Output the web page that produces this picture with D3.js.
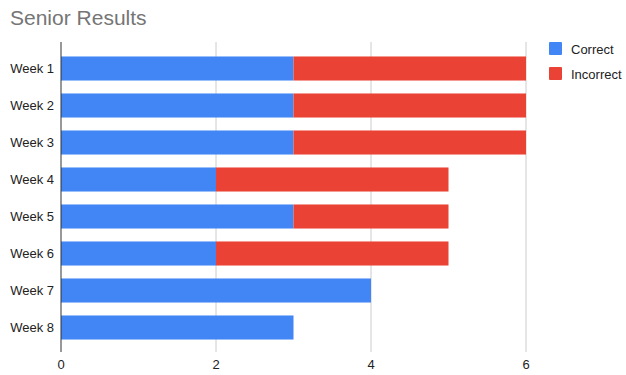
<!DOCTYPE html>
<html>
<head>
<meta charset="utf-8">
<script src="https://cdn.jsdelivr.net/npm/d3@7"></script>
<style>
  body { margin: 0; background: #fff; }
  text { font-family: "Liberation Sans", Arial, sans-serif; }
</style>
</head>
<body>
<div id="chart"></div>
<script>
// data
var weeks = ["Week 1", "Week 2", "Week 3", "Week 4", "Week 5", "Week 6", "Week 7", "Week 8"];
var correct = [3, 3, 3, 2, 3, 2, 4, 3];
var incorrect = [3, 3, 3, 3, 2, 3, 0, 0];
var seriesNames = ["Correct", "Incorrect"];
var colors = ["#4285F4", "#EA4335"];
var xTicks = [0, 2, 4, 6];

var width = 626, height = 375;
var svg = d3.select("#chart").append("svg")
  .attr("width", width)
  .attr("height", height);

var x = d3.scaleLinear().domain([0, 6]).range([61, 526]);
var y = d3.scaleBand().domain(weeks).range([50, 346]).paddingInner(0.35).paddingOuter(0.175);

// title
svg.append("text")
  .attr("x", 10).attr("y", 25)
  .attr("font-size", 21)
  .attr("fill", "#757575")
  .text("Senior Results");

// gridlines
svg.selectAll(".grid").data(xTicks.slice(1)).enter().append("line")
  .attr("x1", d => x(d)).attr("x2", d => x(d))
  .attr("y1", 42).attr("y2", 352)
  .attr("stroke", "#ccc").attr("stroke-width", 1);

// stacked bars
var rows = weeks.map((w, i) => ({ week: w, Correct: correct[i], Incorrect: incorrect[i] }));
var stack = d3.stack().keys(seriesNames)(rows);

svg.selectAll(".series").data(stack).enter().append("g")
  .attr("fill", (d, i) => colors[i])
  .selectAll("rect").data(d => d.filter(p => p[1] > p[0])).enter().append("rect")
  .attr("x", d => x(d[0]))
  .attr("y", d => y(d.data.week))
  .attr("width", d => x(d[1]) - x(d[0]))
  .attr("height", y.bandwidth());

// left axis line
svg.append("line")
  .attr("x1", 61).attr("x2", 61)
  .attr("y1", 42).attr("y2", 352)
  .attr("stroke", "#333").attr("stroke-width", 1);

// week labels
svg.selectAll(".ylab").data(weeks).enter().append("text")
  .attr("x", 54)
  .attr("y", d => y(d) + y.bandwidth() / 2)
  .attr("dy", "0.35em")
  .attr("text-anchor", "end")
  .attr("font-size", 13)
  .attr("fill", "#222")
  .text(d => d);

// x tick labels
svg.selectAll(".xlab").data(xTicks).enter().append("text")
  .attr("x", d => x(d))
  .attr("y", 369)
  .attr("text-anchor", "middle")
  .attr("font-size", 13)
  .attr("fill", "#222")
  .text(d => d);

// legend
var legend = svg.selectAll(".legend").data(seriesNames).enter().append("g")
  .attr("transform", (d, i) => "translate(549," + (42 + i * 25) + ")");
legend.append("rect")
  .attr("width", 13).attr("height", 13)
  .attr("rx", 1)
  .attr("fill", (d, i) => colors[i]);
legend.append("text")
  .attr("x", 22).attr("y", 7)
  .attr("dy", "0.35em")
  .attr("font-size", 13)
  .attr("fill", "#222")
  .text(d => d);
</script>
</body>
</html>
